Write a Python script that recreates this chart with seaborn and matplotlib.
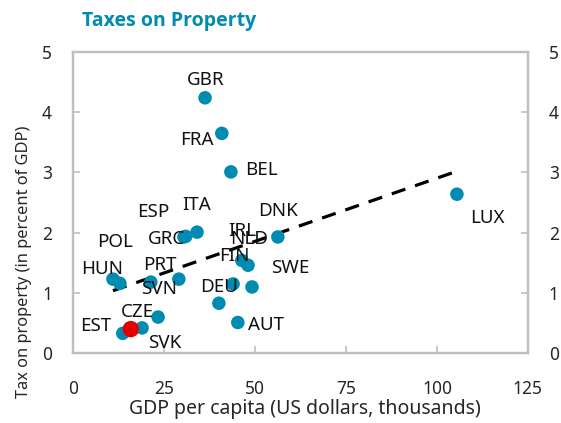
import numpy as np
import pandas as pd
import matplotlib
matplotlib.use("Agg")
import matplotlib.pyplot as plt
import seaborn as sns

# ---- data ----
countries = ["GBR", "FRA", "BEL", "LUX", "ITA", "ESP", "GRC", "DNK", "IRL", "NLD",
             "FIN", "SWE", "DEU", "AUT", "HUN", "POL", "PRT", "SVN", "CZE", "EST", "SVK"]
gdp_pc = [36.3, 40.9, 43.4, 105.5, 34.1, 31.0, 30.5, 56.3, 46.4, 48.1,
          44.0, 49.2, 40.1, 45.3, 11.0, 12.9, 21.4, 29.1, 23.4, 13.7, 19.0]
prop_tax = [4.24, 3.65, 3.01, 2.64, 2.01, 1.94, 1.93, 1.93, 1.54, 1.46,
            1.15, 1.10, 0.83, 0.51, 1.23, 1.16, 1.18, 1.23, 0.60, 0.33, 0.42]
focus_gdp = [15.9]
focus_tax = [0.40]

# label placement offsets (pixels)
label_offsets = {
    "GBR": (1, 18), "FRA": (-25, -7), "BEL": (31, 2), "LUX": (30, -24),
    "ITA": (0, 27), "ESP": (-33, 24), "GRC": (-17, -2), "DNK": (0, 26),
    "IRL": (0, 29), "NLD": (1, 26), "FIN": (1, 28), "SWE": (38, 19),
    "DEU": (0, 16), "AUT": (28, -3), "HUN": (-11, 10), "POL": (-5, 41),
    "PRT": (9, 17), "SVN": (-20, -10), "CZE": (-21, 5), "EST": (-27, 7),
    "SVK": (23, -15),
}

df = pd.DataFrame({"country": countries, "gdp": gdp_pc, "tax": prop_tax})
df_focus = pd.DataFrame({"gdp": focus_gdp, "tax": focus_tax})
df_all = pd.concat([df[["gdp", "tax"]], df_focus], ignore_index=True)

sns.set_theme(style="white")
plt.rcParams["font.family"] = ["Noto Sans", "DejaVu Sans"]

teal = "#008CB2"
grey = "#BFBFBF"

fig = plt.figure(figsize=(5.61, 4.23), dpi=100)
ax = fig.add_axes([0.130, 0.165, 0.811, 0.712])

sns.regplot(data=df_all, x="gdp", y="tax", scatter=False, ci=None, truncate=True,
            ax=ax, line_kws=dict(color="black", lw=2.3, dashes=(4.5, 3.2)))
sns.scatterplot(data=df, x="gdp", y="tax", color=teal, s=95, edgecolor="none",
                ax=ax, zorder=3)
sns.scatterplot(data=df_focus, x="gdp", y="tax", color="#E50000", s=140,
                edgecolor="none", ax=ax, zorder=4)

for c, xv, yv in zip(countries, gdp_pc, prop_tax):
    dx, dy = label_offsets[c]
    ax.annotate(c, (xv, yv), xytext=(dx, dy), textcoords="offset pixels",
                ha="center", va="center", fontsize=13.5, color="#111111", zorder=5)

ax.set_xlim(0, 125)
ax.set_ylim(0, 5)
ax.set_xticks([0, 25, 50, 75, 100, 125])
ax.set_yticks([0, 1, 2, 3, 4, 5])
ax.set_xlabel("GDP per capita (US dollars, thousands)", fontsize=14)
ax.set_ylabel("Tax on property (in percent of GDP)", fontsize=11.8)
ax.xaxis.set_label_coords(0.51, -0.152)
ax.yaxis.set_label_coords(-0.09, 0.303)
ax.tick_params(axis="both", direction="in", length=5, width=1.2, color=grey,
               labelsize=12.5, pad=15, left=True, bottom=True)
ax.tick_params(axis="x", pad=19)
for s in ax.spines.values():
    s.set_color(grey)
    s.set_linewidth(1.6)

ax2 = ax.twinx()
ax2.set_ylim(0, 5)
ax2.set_yticks([0, 1, 2, 3, 4, 5])
ax2.tick_params(axis="y", direction="in", length=5, width=1.2, color=grey,
                labelsize=12.5, pad=15, right=True)
for s in ax2.spines.values():
    s.set_color(grey)
    s.set_linewidth(1.6)
ax2.grid(False)
ax.grid(False)

fig.text(82 / 561, 1 - 21 / 423, "Taxes on Property", fontsize=14, fontweight="bold",
         family=["Open Sans", "Noto Sans", "DejaVu Sans"],
         color=teal, ha="left", va="center")

fig.savefig("out.png", dpi=100)
